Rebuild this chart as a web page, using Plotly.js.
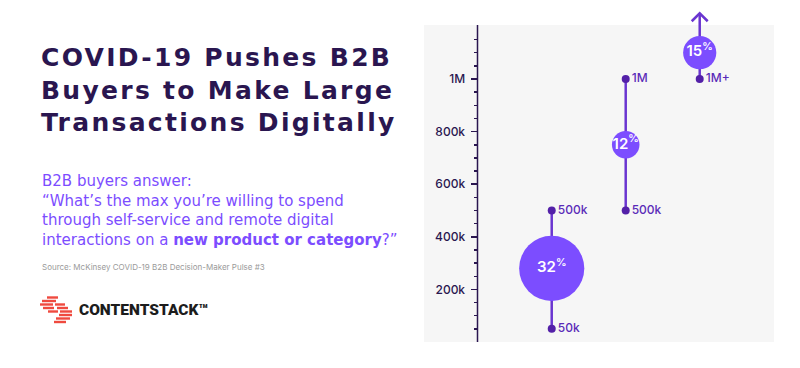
<!DOCTYPE html>
<html>
<head>
<meta charset="utf-8">
<script src="https://cdn.plot.ly/plotly-3.0.1.min.js"></script>
<style>
  html, body { margin: 0; padding: 0; background: #ffffff; }
  #chart { width: 800px; height: 368px; }
  .gtitle { letter-spacing: 2.3px; }
</style>
</head>
<body>
<div id="chart"></div>
<script>
// ---- data ----
const ranges = ["50k–500k", "500k–1M", "1M+"];
const lowVals = [50000, 500000, 1000000];
const highVals = [500000, 1000000, 1250000];   // last range is open-ended (arrow)
const midVals = [280000, 750000, 1100000];
const shares = [32, 12, 15];
const lowLabels = ["50k", "500k", "1M+"];
const highLabels = ["500k", "1M"];
const yTickVals = [200000, 400000, 600000, 800000, 1000000];
const yTickText = ["200k", "400k", "600k", "800k", "1M"];

// ---- layout geometry helpers (pixels -> paper) ----
const W = 800, H = 368;
const M = { l: 424, r: 26, t: 0, b: 26 };
const PW = W - M.l - M.r, PH = H - M.t - M.b;
const px = v => (v - M.l) / PW;
const py = v => (H - M.b - v) / PH;

const lineColor = "#6a35d0";
const dotColor = "#5320a8";
const bubbleColor = "#7c4dff";
const inkColor = "#2a1650";
const axisPos = px(477.5);

// line segments
const segX = [], segY = [];
ranges.forEach((r, i) => { segX.push(r, r, null); segY.push(lowVals[i], highVals[i], null); });

const traces = [
  { type: "scatter", mode: "lines", x: segX, y: segY,
    line: { color: lineColor, width: 2.5 }, hoverinfo: "skip", showlegend: false },
  { type: "scatter", mode: "markers+text", x: ranges, y: lowVals, text: lowLabels,
    textposition: "middle right",
    textfont: { family: "Inter, sans-serif", size: 12, color: "#5a2bb8", weight: 500 },
    marker: { color: dotColor, size: 8 }, cliponaxis: false, showlegend: false },
  { type: "scatter", mode: "markers+text", x: ranges.slice(0, highLabels.length),
    y: highVals.slice(0, highLabels.length), text: highLabels,
    textposition: "middle right",
    textfont: { family: "Inter, sans-serif", size: 12, color: "#5a2bb8", weight: 500 },
    marker: { color: dotColor, size: 8 }, cliponaxis: false, showlegend: false },
  { type: "scatter", mode: "markers+text", x: ranges, y: midVals,
    text: shares.map(s => s + "<sup>%</sup>"),
    textposition: "middle center",
    textfont: { family: "Inter, sans-serif", size: 15, color: "#ffffff", weight: 600 },
    marker: { color: bubbleColor, size: shares.map(s => 5 + 1.88 * s), sizemode: "diameter",
              line: { width: 0 }, opacity: 1 },
    cliponaxis: false, showlegend: false }
];

// minor ticks every 50k inside the panel
const minorVals = [];
for (let v = 50000; v <= 1150000; v += 50000) if (v % 200000 !== 0) minorVals.push(v);

const shapes = [
  { type: "rect", xref: "paper", yref: "paper", x0: 0, x1: 1, y0: 0, y1: py(25),
    fillcolor: "#f6f6f6", line: { width: 0 }, layer: "below" },
  { type: "line", xref: "paper", yref: "paper", x0: axisPos, x1: axisPos, y0: 0, y1: py(25),
    line: { color: inkColor, width: 1.5 }, layer: "below" },
  { type: "path", xref: "x", yref: "y", xsizemode: "pixel", ysizemode: "pixel",
    xanchor: ranges[2], yanchor: highVals[2],
    path: "M -8 -8 L 0 0 L 8 -8", line: { color: lineColor, width: 2.5 } }
];

// logo stripes [y, x0, x1] in px
const stripes = [
  [297.5, 47, 58], [301, 42, 56], [304.5, 40, 53], [304.5, 55, 65],
  [308, 43, 54], [308, 57, 68], [311.5, 48, 58], [311.5, 60, 72],
  [315, 59, 72], [318.5, 56, 70], [322, 54, 66]
];
stripes.forEach(s => shapes.push({
  type: "rect", xref: "paper", yref: "paper",
  x0: px(s[1]), x1: px(s[2]), y0: py(s[0] - 1.2), y1: py(s[0] + 1.2),
  fillcolor: "#ef4a3f", line: { width: 0 }
}));

const annotations = [
  { xref: "paper", yref: "paper", x: px(40), y: py(170), xanchor: "left", yanchor: "top",
    align: "left", showarrow: false,
    text: "B2B buyers answer:<br>“What’s the max you’re willing to spend<br>through self-service and remote digital<br>interactions on a <b>new product or category</b>?”",
    font: { family: "DejaVu Sans, sans-serif", size: 15, color: "#7c4dff" } },
  { xref: "paper", yref: "paper", x: px(40), y: py(267), xanchor: "left", yanchor: "middle",
    align: "left", showarrow: false,
    text: "Source: McKinsey COVID-19 B2B Decision-Maker Pulse #3",
    font: { family: "Inter, sans-serif", size: 8, color: "#9a9a9a" } },
  { xref: "paper", yref: "paper", x: px(77), y: py(310), xanchor: "left", yanchor: "middle",
    align: "left", showarrow: false,
    text: "CONTENTSTACK™",
    font: { family: "Roboto, sans-serif", size: 15.5, color: "#1c1c1c", weight: 900 } }
];

const layout = {
  width: W, height: H,
  margin: M,
  paper_bgcolor: "#ffffff",
  plot_bgcolor: "rgba(0,0,0,0)",
  title: {
    text: "COVID-19 Pushes B2B<br>Buyers to Make Large<br>Transactions Digitally",
    xref: "container", yref: "container", x: 41 / W, xanchor: "left",
    y: 1 - 66 / H, yanchor: "top",
    font: { family: "DejaVu Sans, sans-serif", size: 25, color: inkColor, weight: 700 }
  },
  xaxis: { type: "category", range: [-1.726, 3.004], showgrid: false, zeroline: false,
           showticklabels: false, showline: false, ticks: "", fixedrange: true },
  yaxis: { range: [0, 1300380], anchor: "free", position: axisPos,
           showgrid: false, zeroline: false, showline: false,
           tickmode: "array", tickvals: yTickVals, ticktext: yTickText,
           ticks: "outside", ticklen: 7, tickwidth: 1.5, tickcolor: inkColor,
           ticklabelstandoff: 3,
           tickfont: { family: "Inter, sans-serif", size: 12, color: inkColor, weight: 500 },
           minor: { tickmode: "array", tickvals: minorVals, ticks: "outside", ticklen: 4,
                    tickwidth: 1.5, tickcolor: inkColor },
           fixedrange: true },
  shapes: shapes,
  annotations: annotations,
  showlegend: false
};

Plotly.newPlot("chart", traces, layout, { displayModeBar: false, staticPlot: true });
</script>
</body>
</html>
